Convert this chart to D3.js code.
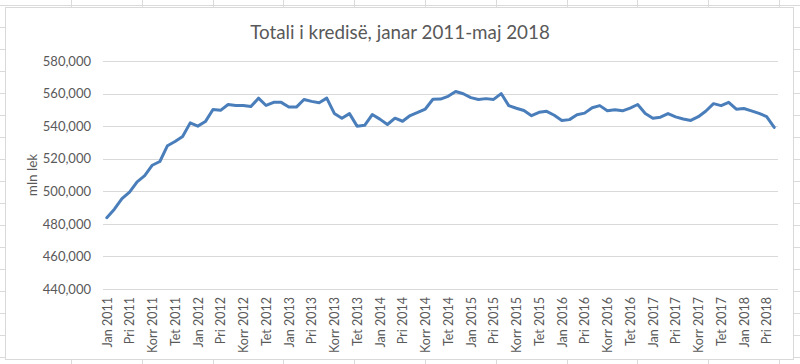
<!DOCTYPE html>
<html>
<head>
<meta charset="utf-8">
<script src="https://cdn.jsdelivr.net/npm/d3@7"></script>
<style>
  html, body { margin: 0; padding: 0; background: #fff; }
  svg { display: block; }
  text { font-family: Lato, "Noto Sans", sans-serif; fill: #595959; }
</style>
</head>
<body>
<svg id="chart" width="800" height="364"></svg>
<script>
// Monthly credit stock, Jan 2011 – May 2018 (mln lek)
const monthNames = ["Jan", "Shk", "Mar", "Pri", "Maj", "Qer", "Korr", "Gus", "Sht", "Tet", "Nën", "Dhj"];
const years = [2011, 2012, 2013, 2014, 2015, 2016, 2017, 2018];
const lastMonth = 4; // maj 2018

const credit = [
  483800, 489000, 495500, 499500, 505800, 509600, 516000, 518300, 528000, 530600, 533700, 542000,
  540000, 542800, 550200, 549700, 553300, 552700, 552700, 552000, 557200, 552700, 554600, 554600,
  551800, 551700, 556400, 555200, 554400, 557200, 547800, 544800, 547700, 540000, 540500, 547100,
  544300, 541000, 544900, 543000, 546500, 548400, 550500, 556500, 556600, 558300, 561300, 559900,
  557500, 556400, 556900, 556400, 560000, 552600, 551000, 549600, 546400, 548500, 549100, 546700,
  543500, 544000, 547000, 548000, 551300, 552600, 549400, 550000, 549400, 551100, 553300, 547800,
  544900, 545500, 547700, 545700, 544400, 543500, 545800, 549300, 553800, 552600, 554600, 550400,
  550800, 549400, 547800, 545900, 539200
];

const yTicks = [440000, 460000, 480000, 500000, 520000, 540000, 560000, 580000];
const title = "Totali i kredisë, janar 2011-maj 2018";
const yTitle = "mln lek";

const categories = [];
years.forEach((yr) => {
  monthNames.forEach((m, i) => {
    if (yr === 2018 && i > lastMonth) return;
    categories.push(`${m} ${yr}`);
  });
});
const data = categories.map((c, i) => ({ label: c, value: credit[i] }));

const svg = d3.select("#chart");
const W = 800, H = 364;

// spreadsheet cell grid behind the chart object
const cellG = svg.append("g");
cellG.selectAll("line.v")
  .data(d3.range(71, W, 70.8))
  .join("line")
  .attr("x1", (d) => Math.round(d) + 0.5).attr("x2", (d) => Math.round(d) + 0.5)
  .attr("y1", 0).attr("y2", H)
  .attr("stroke", "#dadada");
cellG.selectAll("line.h")
  .data(d3.range(5, H, 22))
  .join("line")
  .attr("x1", 0).attr("x2", W)
  .attr("y1", (d) => d + 0.5).attr("y2", (d) => d + 0.5)
  .attr("stroke", "#dadada");

// chart area
svg.append("rect")
  .attr("x", 5.5).attr("y", 7.5)
  .attr("width", 788).attr("height", 352)
  .attr("fill", "#fff")
  .attr("stroke", "#d9d9d9");

const m = { left: 103, right: 778, top: 61, bottom: 289 };

const x = d3.scalePoint()
  .domain(categories)
  .range([m.left, m.right])
  .padding(0.5);

const y = d3.scaleLinear()
  .domain([440000, 580000])
  .range([m.bottom, m.top]);

// gridlines
svg.append("g")
  .selectAll("line")
  .data(yTicks)
  .join("line")
  .attr("x1", m.left).attr("x2", m.right)
  .attr("y1", (d) => Math.round(y(d)) + 0.5)
  .attr("y2", (d) => Math.round(y(d)) + 0.5)
  .attr("stroke", "#d9d9d9")
  .attr("stroke-width", 1);

// y axis labels
const fmt = d3.format(",");
const yAxis = svg.append("g")
  .attr("transform", `translate(${m.left - 12},0)`)
  .call(d3.axisLeft(y).tickValues(yTicks).tickFormat(fmt).tickSize(0).tickPadding(0));
yAxis.select(".domain").remove();
yAxis.selectAll("text")
  .attr("font-size", 13)
  .attr("fill", "#595959")
  .attr("font-family", "Lato, sans-serif");

// x axis labels, every third month
const xTickVals = categories.filter((c, i) => i % 3 === 0);
const xAxis = svg.append("g")
  .attr("transform", `translate(0,${m.bottom})`)
  .call(d3.axisBottom(x).tickValues(xTickVals).tickSize(0).tickPadding(0));
xAxis.select(".domain").remove();
xAxis.selectAll("text")
  .attr("font-size", 12.5)
  .attr("fill", "#595959")
  .attr("font-family", "Lato, sans-serif")
  .attr("text-anchor", "end")
  .attr("dy", "0.35em")
  .attr("transform", "translate(0,8) rotate(-90)")
  .attr("x", 0).attr("y", 0);

// line
svg.append("path")
  .datum(data)
  .attr("fill", "none")
  .attr("stroke", "#4a7ebb")
  .attr("stroke-width", 3)
  .attr("stroke-linejoin", "round")
  .attr("stroke-linecap", "round")
  .attr("d", d3.line().x((d) => x(d.label)).y((d) => y(d.value)));

// title
svg.append("text")
  .attr("x", 400).attr("y", 39)
  .attr("text-anchor", "middle")
  .attr("font-size", 18.8)
  .text(title);

// y axis title
svg.append("text")
  .attr("transform", `translate(37,${(m.top + m.bottom) / 2}) rotate(-90)`)
  .attr("text-anchor", "middle")
  .attr("font-size", 13.5)
  .text(yTitle);
</script>
</body>
</html>
